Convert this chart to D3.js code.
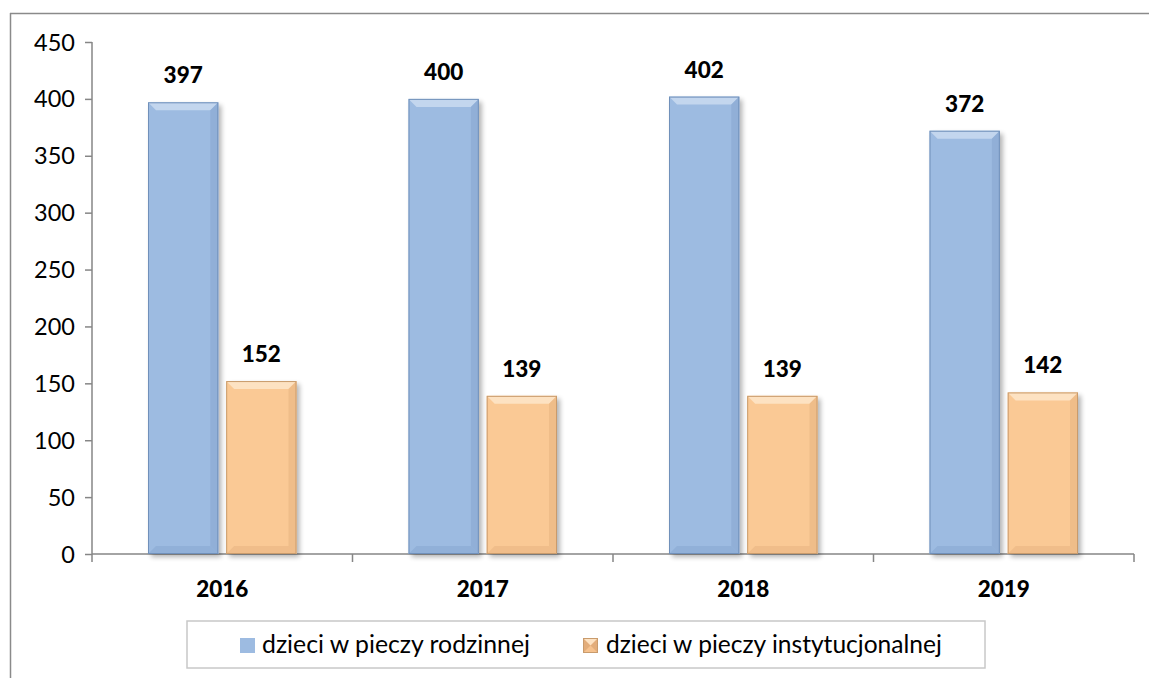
<!DOCTYPE html>
<html><head><meta charset="utf-8">
<script src="https://cdn.jsdelivr.net/npm/d3@7"></script>
<style>html,body{margin:0;background:#fff;overflow:hidden}svg{display:block}text{font-family:Lato,"Open Sans",sans-serif}</style>
</head><body><svg id="c" width="1149" height="678"></svg>
<script>
const categories = ["2016","2017","2018","2019"];
const seriesNames = ["dzieci w pieczy rodzinnej","dzieci w pieczy instytucjonalnej"];
const rodzinna = [397,400,402,372];
const instytucjonalna = [152,139,139,142];
const yTicks = [0,50,100,150,200,250,300,350,400,450];

const svg = d3.select("#c");
const colors = [{base:"#9dbbe1",light:"#c3d6ee",dark:"#86a5cf",edge:"#7090ba"},
                {base:"#fac995",light:"#fde2c2",dark:"#e6b27f",edge:"#c99b6c"}];
const defs = svg.append("defs");
const f = defs.append("filter").attr("id","sh").attr("x","-20%").attr("y","-20%").attr("width","150%").attr("height","150%");
f.append("feGaussianBlur").attr("in","SourceAlpha").attr("stdDeviation",2.5);
f.append("feOffset").attr("dx",3).attr("dy",3).attr("result","b");
f.append("feComponentTransfer").append("feFuncA").attr("type","linear").attr("slope",0.3);
const m = f.append("feMerge"); m.append("feMergeNode"); m.append("feMergeNode").attr("in","SourceGraphic");

// outer border
svg.append("line").attr("x1",10.5).attr("x2",10.5).attr("y1",13).attr("y2",678).attr("stroke","#8a8a8a").attr("stroke-width",1.5);
svg.append("line").attr("x1",10).attr("x2",1149).attr("y1",13.5).attr("y2",13.5).attr("stroke","#8a8a8a").attr("stroke-width",1.5);

const x0 = d3.scaleBand().domain(categories).range([92,1134]).paddingInner(0).paddingOuter(0);
const x1 = d3.scaleBand().domain([0,1]).range([56, x0.bandwidth()-56]).paddingInner(15/149);
const y = d3.scaleLinear().domain([0,450]).range([554,42]);

// axes
const ya = svg.append("g").attr("transform","translate(92,0)")
  .call(d3.axisLeft(y).tickValues(yTicks).tickSize(7).tickPadding(10).tickFormat(d3.format("d")));
ya.select(".domain").remove();
ya.append("line").attr("x1",0).attr("x2",0).attr("y1",42).attr("y2",562).attr("stroke","#868686").attr("stroke-width",1.5);
ya.selectAll(".tick line").attr("stroke","#868686").attr("stroke-width",1.5);
ya.selectAll(".tick text").attr("font-size",23.5).attr("fill","#000").attr("font-family","Lato").attr("dy","0.34em");

const bounds = categories.map(c=>x0(c)).concat([x0(categories[3])+x0.bandwidth()]);
const xa = svg.append("g");
xa.append("line").attr("x1",92).attr("x2",1134).attr("y1",554).attr("y2",554).attr("stroke","#868686").attr("stroke-width",1.5);
xa.selectAll("line.t").data(bounds.slice(1)).join("line").attr("class","t")
  .attr("x1",d=>d).attr("x2",d=>d).attr("y1",554).attr("y2",562).attr("stroke","#868686").attr("stroke-width",1.5);
xa.selectAll("text").data(categories).join("text")
  .attr("x",d=>x0(d)+x0.bandwidth()/2).attr("y",597).attr("text-anchor","middle")
  .attr("font-size",22.5).attr("font-weight","900").text(d=>d);

// bars
const series = [rodzinna, instytucjonalna];
const bev = 8;
series.forEach((vals,si)=>{
  const col = colors[si];
  const g = svg.append("g");
  categories.forEach((c,i)=>{
    const xl = x0(c)+x1(si), w = x1.bandwidth(), yt = y(vals[i]), yb = y(0), h = yb-yt;
    const bg = g.append("g");
    bg.append("rect").attr("x",xl).attr("y",yt).attr("width",w).attr("height",h).attr("fill",col.base).attr("filter","url(#sh)");
    bg.append("path").attr("d",`M${xl},${yt} H${xl+w} L${xl+w-bev},${yt+bev} H${xl+bev} Z`).attr("fill",col.light);
    bg.append("path").attr("d",`M${xl+w},${yt} L${xl+w-bev},${yt+bev} V${yb-bev} L${xl+w},${yb} Z`).attr("fill",col.dark).attr("opacity",0.55);
    bg.append("path").attr("d",`M${xl},${yb} L${xl+bev},${yb-bev} H${xl+w-bev} L${xl+w},${yb} Z`).attr("fill",col.dark).attr("opacity",0.5);
    bg.append("rect").attr("x",xl+0.5).attr("y",yt+0.5).attr("width",w-1).attr("height",h-1).attr("fill","none").attr("stroke",col.edge).attr("stroke-width",1);
    g.append("text").attr("x",xl+w/2).attr("y",yt-19).attr("text-anchor","middle")
      .attr("font-size",22.5).attr("font-weight","900").text(vals[i]);
  });
});

// legend
const lg = svg.append("g");
lg.append("rect").attr("x",187).attr("y",621).attr("width",798).attr("height",47).attr("fill","#fff").attr("stroke","#c8c8c8").attr("stroke-width",1.5);
const lx = [240, 583];
const textStart = [262, 606], textWidth = [268, 336];
seriesNames.forEach((n,i)=>{
  const col = colors[i];
  const a=lx[i], b=638, s=15;
  if(i===0){
    lg.append("rect").attr("x",a).attr("y",b).attr("width",s).attr("height",s).attr("fill",col.base);
  } else {
    lg.append("rect").attr("x",a).attr("y",b).attr("width",s).attr("height",s).attr("fill","#e3ad7a");
    lg.append("path").attr("d",`M${a},${b} H${a+s} L${a+s/2},${b+s/2} Z`).attr("fill",col.light);
    lg.append("path").attr("d",`M${a},${b+s} H${a+s} L${a+s/2},${b+s/2} Z`).attr("fill","#f6c28e");
    lg.append("rect").attr("x",a+0.5).attr("y",b+0.5).attr("width",s-1).attr("height",s-1).attr("fill","none").attr("stroke","#c99b6c").attr("stroke-width",1);
  }
  const t = lg.append("text").attr("x",textStart[i]).attr("y",653).attr("font-size",20).attr("fill","#000").text(n);
  const len = t.node().getComputedTextLength();
  t.attr("font-size", 20*textWidth[i]/len);
});
</script></body></html>
